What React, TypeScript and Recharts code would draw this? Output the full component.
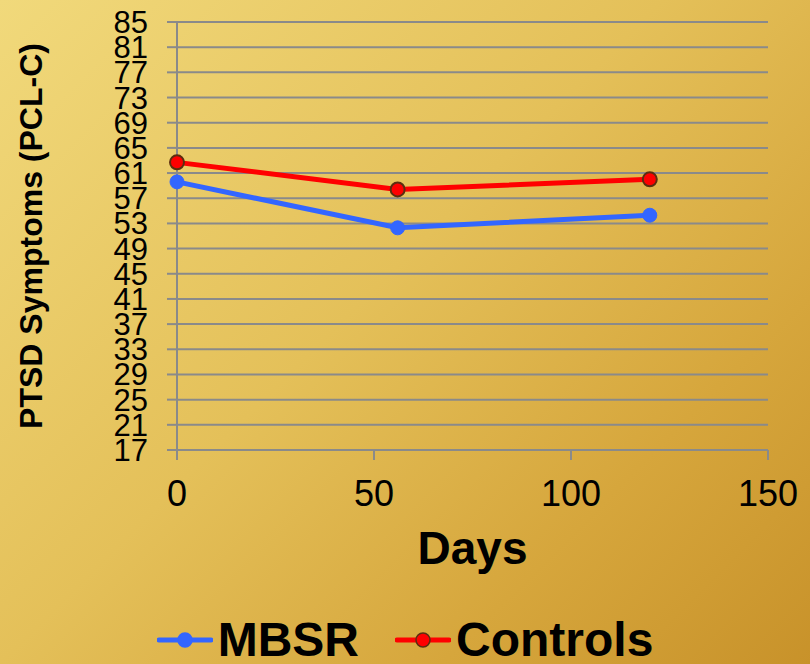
import React from "react";
import {
  LineChart,
  Line,
  XAxis,
  YAxis,
  CartesianGrid,
  Legend,
} from "recharts";

const days = [0, 56, 120];
const mbsr = [59.6, 52.3, 54.3];
const controls = [62.7, 58.4, 60.0];

const yTicks = [17, 21, 25, 29, 33, 37, 41, 45, 49, 53, 57, 61, 65, 69, 73, 77, 81, 85];
const xTicks = [0, 50, 100, 150];

const data = days.map((d, i) => ({ day: d, mbsr: mbsr[i], controls: controls[i] }));

const legendItems = [
  { label: "MBSR", color: "#3366FF", dotStroke: "#3366FF" },
  { label: "Controls", color: "#FF0000", dotStroke: "#5C2E10" },
];

const FONT = "'Liberation Sans', Arial, sans-serif";
const GRID = "#8a8a8a";

function renderLegend() {
  return (
    <div
      style={{
        display: "flex",
        justifyContent: "center",
        alignItems: "center",
        height: 64,
        paddingTop: 16,
        boxSizing: "border-box",
      }}
    >
      {legendItems.map((it, i) => (
        <div
          key={it.label}
          style={{ display: "flex", alignItems: "center", marginLeft: i === 0 ? 0 : 36 }}
        >
          <svg width={56} height={20} style={{ display: "block" }}>
            <line x1={2} y1={10} x2={54} y2={10} stroke={it.color} strokeWidth={5} strokeLinecap="round" />
            <circle cx={28} cy={10} r={7} fill={it.color} stroke={it.dotStroke} strokeWidth={1.5} />
          </svg>
          <span
            style={{
              fontFamily: FONT,
              fontWeight: 700,
              fontSize: 48,
              lineHeight: "48px",
              color: "#000",
              marginLeft: 5,
            }}
          >
            {it.label}
          </span>
        </div>
      ))}
    </div>
  );
}

export default function App() {
  return (
    <div
      style={{
        position: "absolute",
        left: 0,
        top: 0,
        width: 810,
        height: 664,
        background: "linear-gradient(135deg, #F1D97B 0%, #E4C059 45%, #D6A63C 75%, #C8922A 100%)",
        fontFamily: FONT,
      }}
    >
      <LineChart
        width={810}
        height={664}
        data={data}
        margin={{ top: 22, right: 42, left: 0, bottom: 0 }}
      >
        <CartesianGrid vertical={false} stroke={GRID} strokeWidth={2} />
        <XAxis
          dataKey="day"
          type="number"
          domain={[0, 150]}
          ticks={xTicks}
          height={150}
          stroke={GRID}
          axisLine={{ stroke: GRID, strokeWidth: 2 }}
          tickLine={{ stroke: GRID, strokeWidth: 2 }}
          tickSize={10}
          tickMargin={20}
          tick={{ fill: "#000", fontSize: 36, fontFamily: FONT }}
          label={{
            value: "Days",
            position: "insideTop",
            offset: 81,
            fill: "#000",
            fontSize: 46,
            fontWeight: 700,
            fontFamily: FONT,
          }}
        />
        <YAxis
          type="number"
          domain={[17, 85]}
          ticks={yTicks}
          interval={0}
          width={177}
          stroke={GRID}
          axisLine={{ stroke: GRID, strokeWidth: 2 }}
          tickLine={{ stroke: GRID, strokeWidth: 2 }}
          tickSize={10}
          tickMargin={19}
          tick={{ fill: "#000", fontSize: 31, fontFamily: FONT }}
          label={{
            value: "PTSD Symptoms (PCL-C)",
            angle: -90,
            position: "insideLeft",
            offset: 31,
            fill: "#000",
            fontSize: 32,
            fontWeight: 700,
            fontFamily: FONT,
            style: { textAnchor: "middle" },
          }}
        />
        <Legend
          verticalAlign="bottom"
          height={64}
          width={810}
          wrapperStyle={{ left: 0 }}
          content={renderLegend}
        />
        <Line
          type="linear"
          dataKey="mbsr"
          name="MBSR"
          stroke="#3366FF"
          strokeWidth={5}
          dot={{ r: 7, fill: "#3366FF", stroke: "#3366FF", strokeWidth: 1 }}
          activeDot={false}
          isAnimationActive={false}
        />
        <Line
          type="linear"
          dataKey="controls"
          name="Controls"
          stroke="#FF0000"
          strokeWidth={5}
          dot={{ r: 7, fill: "#FF0000", stroke: "#5C2E10", strokeWidth: 2 }}
          activeDot={false}
          isAnimationActive={false}
        />
      </LineChart>
    </div>
  );
}
